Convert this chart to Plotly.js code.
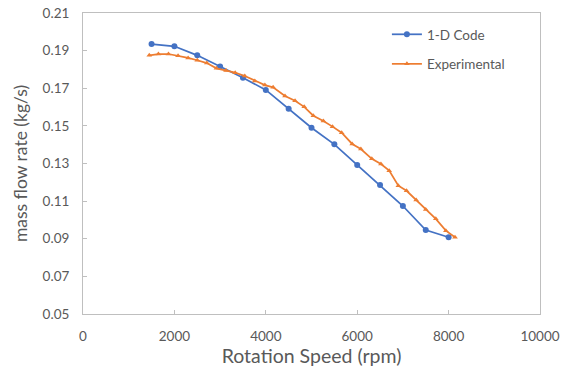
<!DOCTYPE html>
<html>
<head>
<meta charset="utf-8">
<script src="https://cdn.plot.ly/plotly-3.0.1.min.js"></script>
<style>html,body{margin:0;padding:0;background:#fff;}#chart{width:568px;height:375px;}</style>
</head>
<body>
<div id="chart"></div>
<script>
// 1-D Code series
var codeSpeed = [1500, 2000, 2500, 3000, 3500, 4000, 4500, 5000, 5500, 6000, 6500, 7000, 7500, 8000];
var codeFlow  = [0.1935, 0.1923, 0.1875, 0.1815, 0.1756, 0.1691, 0.1591, 0.1490, 0.1402, 0.1292, 0.1186, 0.1074, 0.0946, 0.0908];

// Experimental series
var expSpeed = [1450, 1650, 1870, 2080, 2300, 2500, 2710, 2920, 3130, 3330, 3540, 3760, 3980, 4160, 4420, 4640, 4840,
                5040, 5260, 5460, 5660, 5890, 6080, 6320, 6520, 6700, 6900, 7080, 7290, 7500, 7720, 7940, 8140];
var expFlow  = [0.1875, 0.1882, 0.1882, 0.1873, 0.1861, 0.1849, 0.1834, 0.1806, 0.1795, 0.1783, 0.1765, 0.1739, 0.1717, 0.1705, 0.1659, 0.1634, 0.1601,
                0.1554, 0.1526, 0.1496, 0.1464, 0.1404, 0.1377, 0.1325, 0.1297, 0.1262, 0.1182, 0.1155, 0.1106, 0.1056, 0.1006, 0.0943, 0.0908];

var xTicks = [0, 2000, 4000, 6000, 8000, 10000];
var yTicks = [0.05, 0.07, 0.09, 0.11, 0.13, 0.15, 0.17, 0.19, 0.21];

var fontFam = 'Lato, "Open Sans", sans-serif';
var txt = '#595959';
var axisCol = '#bfbfbf';

var traces = [
  {
    x: codeSpeed, y: codeFlow, name: '1-D Code', legendgroup: 'a',
    mode: 'lines+markers', type: 'scatter',
    line: {color: '#4472C4', width: 1.75},
    marker: {color: '#4472C4', symbol: 'circle', size: 6}
  },
  {
    x: expSpeed, y: expFlow, name: 'Experimental', legendgroup: 'b',
    mode: 'lines+markers', type: 'scatter',
    line: {color: '#ED7D31', width: 1.75},
    marker: {color: '#ED7D31', symbol: 'triangle-up', size: 5}
  }
];

var layout = {
  width: 568, height: 375,
  margin: {l: 83, r: 28, t: 13, b: 61},
  paper_bgcolor: '#fff', plot_bgcolor: '#fff',
  font: {family: fontFam, color: txt, size: 13},
  showlegend: true,
  legend: {
    x: 0.665, y: 0.98, xanchor: 'left', yanchor: 'top',
    bgcolor: 'rgba(0,0,0,0)', font: {size: 13.5, color: txt, family: fontFam},
    tracegroupgap: 9, itemwidth: 30
  },
  xaxis: {
    range: [0, 10000], tickvals: xTicks, ticktext: xTicks.map(String),
    showgrid: false, zeroline: false,
    showline: true, linecolor: axisCol, linewidth: 1, mirror: true,
    ticks: 'inside', ticklen: 4, tickcolor: axisCol,
    tickfont: {size: 13.5, color: txt},
    ticklabelstandoff: 10,
    title: {text: 'Rotation Speed (rpm)', font: {size: 19.5, color: txt}, standoff: 4}
  },
  yaxis: {
    range: [0.05, 0.21], tickvals: yTicks, ticktext: yTicks.map(function(v){return v.toFixed(2);}),
    showgrid: false, zeroline: false,
    showline: true, linecolor: axisCol, linewidth: 1, mirror: true,
    ticks: 'inside', ticklen: 4, tickcolor: axisCol,
    tickfont: {size: 13.5, color: txt},
    ticklabelstandoff: 10,
    title: {text: 'mass flow rate (kg/s)', font: {size: 17.5, color: txt}, standoff: 10}
  }
};

Plotly.newPlot('chart', traces, layout, {displayModeBar: false, staticPlot: true});
</script>
</body>
</html>
